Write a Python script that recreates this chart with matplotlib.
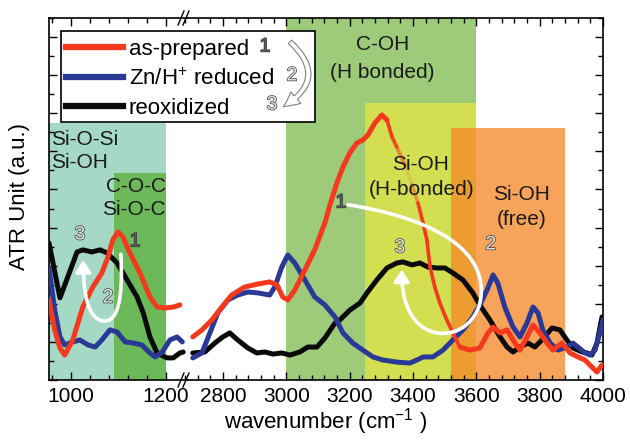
import numpy as np
import matplotlib
matplotlib.use("Agg")
import matplotlib.pyplot as plt
import matplotlib.patheffects as pe
from matplotlib.lines import Line2D
from matplotlib.patches import Rectangle, FancyArrowPatch
from matplotlib.path import Path
from matplotlib.collections import LineCollection
from matplotlib.ticker import MultipleLocator, NullFormatter

plt.rcParams["font.family"] = ["Liberation Sans", "DejaVu Sans"]
plt.rcParams["mathtext.fontset"] = "custom"
plt.rcParams["mathtext.rm"] = "Liberation Sans"

RED = "#f5391c"
BLUE = "#2b3996"
BLACK = "#0a0a0a"

# ---- low-wavenumber window (Si-O region) ----
lo_red_x = [954, 966, 977, 987, 1004, 1025, 1046, 1065, 1078, 1088, 1099, 1109,
            1124, 1145, 1166, 1181, 1198, 1215, 1229]
lo_red_y = [0.42, 0.263, 0.168, 0.131, 0.21, 0.383, 0.488, 0.562, 0.646, 0.735,
            0.777, 0.751, 0.667, 0.562, 0.436, 0.383, 0.378, 0.383, 0.394]
lo_blue_x = [954, 966, 977, 987, 1004, 1019, 1036, 1051, 1065, 1082, 1097, 1114,
             1131, 1149, 1166, 1177, 1192, 1208, 1223, 1234]
lo_blue_y = [0.588, 0.367, 0.226, 0.184, 0.2, 0.21, 0.184, 0.173, 0.21, 0.263,
             0.252, 0.2, 0.194, 0.184, 0.142, 0.121, 0.147, 0.21, 0.226, 0.2]
lo_black_x = [954, 977, 1013, 1025, 1044, 1061, 1076, 1097, 1118, 1139, 1152,
              1166, 1181, 1202, 1215, 1229, 1236]
lo_black_y = [0.719, 0.431, 0.672, 0.683, 0.672, 0.683, 0.667, 0.614, 0.525,
              0.436, 0.352, 0.226, 0.142, 0.116, 0.116, 0.142, 0.147]

# ---- high-wavenumber window (OH region) ----
hi_red_x = [2705, 2734, 2765, 2797, 2828, 2869, 2911, 2948, 2971, 2989, 3005,
            3027, 3059, 3090, 3122, 3138, 3160, 3179, 3201, 3223, 3242, 3258,
            3280, 3302, 3318, 3334, 3349, 3375, 3397, 3416, 3432, 3444, 3454,
            3469, 3485, 3507, 3526, 3548, 3580, 3611, 3637, 3653, 3675, 3697,
            3722, 3738, 3760, 3779, 3801, 3823, 3842, 3870, 3896, 3921, 3943,
            3965, 3981, 3997]
hi_red_y = [0.226, 0.263, 0.315, 0.383, 0.446, 0.488, 0.504, 0.515, 0.499, 0.436,
            0.42, 0.472, 0.578, 0.683, 0.824, 0.919, 1.034, 1.118, 1.192, 1.244,
            1.26, 1.286, 1.349, 1.391, 1.365, 1.276, 1.223, 1.129, 1.024, 0.929,
            0.824, 0.735, 0.593, 0.488, 0.404, 0.315, 0.247, 0.173, 0.157, 0.168,
            0.247, 0.278, 0.247, 0.263, 0.194, 0.157, 0.226, 0.289, 0.247, 0.194,
            0.157, 0.194, 0.142, 0.121, 0.105, 0.068, 0.042, 0.079]
hi_blue_x = [2705, 2734, 2759, 2784, 2816, 2847, 2879, 2911, 2948, 2964, 2986,
             3005, 3027, 3059, 3090, 3122, 3154, 3179, 3210, 3242, 3274, 3305,
             3349, 3390, 3413, 3432, 3463, 3495, 3526, 3558, 3589, 3611, 3634,
             3653, 3668, 3690, 3716, 3738, 3760, 3779, 3795, 3810, 3833, 3858,
             3886, 3905, 3921, 3943, 3959, 3975, 3990, 4000]
hi_blue_y = [0.116, 0.142, 0.247, 0.352, 0.42, 0.446, 0.462, 0.457, 0.446, 0.488,
             0.593, 0.656, 0.614, 0.525, 0.436, 0.394, 0.331, 0.247, 0.194, 0.157,
             0.121, 0.105, 0.094, 0.089, 0.105, 0.121, 0.121, 0.157, 0.21, 0.263,
             0.331, 0.394, 0.472, 0.551, 0.509, 0.383, 0.278, 0.226, 0.299, 0.383,
             0.352, 0.263, 0.194, 0.157, 0.173, 0.194, 0.173, 0.142, 0.131, 0.157,
             0.247, 0.315]
hi_black_x = [2705, 2743, 2775, 2800, 2822, 2847, 2879, 2907, 2933, 2958, 2986,
              3012, 3043, 3068, 3097, 3122, 3154, 3169, 3201, 3233, 3255, 3286,
              3318, 3349, 3368, 3397, 3422, 3447, 3476, 3501, 3526, 3558, 3589,
              3611, 3643, 3675, 3697, 3716, 3738, 3763, 3785, 3807, 3839, 3864,
              3886, 3905, 3934, 3949, 3965, 3981, 3997]
hi_black_y = [0.142, 0.147, 0.194, 0.226, 0.247, 0.21, 0.168, 0.142, 0.147, 0.136,
              0.142, 0.131, 0.147, 0.173, 0.173, 0.22, 0.299, 0.315, 0.367, 0.404,
              0.457, 0.525, 0.588, 0.614, 0.62, 0.604, 0.614, 0.593, 0.588, 0.588,
              0.562, 0.525, 0.457, 0.394, 0.315, 0.226, 0.173, 0.147, 0.173, 0.194,
              0.173, 0.21, 0.273, 0.263, 0.21, 0.168, 0.147, 0.142, 0.131, 0.194,
              0.331]

# assignment bands: (x0, x1, top, colour)
lo_bands = [(940, 1200, 1.349, "#a6d8c6"), (1090, 1200, 1.087, "#6cb95a")]
hi_bands = [(3000, 3600, 1.9, "#9dcb79"), (3250, 3600, 1.454, "#d3df50")]
free_band = (3520, 3880, 1.323, "#f58a2a")

YMAX = 1.9
W, H = 630, 440

fig = plt.figure(figsize=(6.3, 4.4), dpi=100)
ax1 = fig.add_axes([49 / W, 60 / H, 139 / W, 362 / H])
ax2 = fig.add_axes([188 / W, 60 / H, 415 / W, 362 / H])

ax1.set_xlim(954, 1246)
ax2.set_xlim(2690, 4000)

for x0, x1, top, c in lo_bands:
    ax1.axvspan(x0, x1, ymin=0, ymax=top / YMAX, color=c, lw=0, zorder=0)
for x0, x1, top, c in hi_bands:
    ax2.axvspan(x0, x1, ymin=0, ymax=top / YMAX, color=c, lw=0, zorder=0)
ax2.axvspan(free_band[0], free_band[1], ymin=0, ymax=free_band[2] / YMAX,
            color=free_band[3], alpha=0.78, lw=0, zorder=0.5)

LW = 3.6
kw = dict(lw=LW, solid_capstyle="round", solid_joinstyle="round")
ax1.plot(lo_black_x, lo_black_y, color=BLACK, zorder=3, **kw)
ax1.plot(lo_blue_x, lo_blue_y, color=BLUE, zorder=3, **kw)
ax1.plot(lo_red_x, lo_red_y, color=RED, zorder=4, **kw)

ax2.plot(hi_black_x, hi_black_y, color=BLACK, zorder=3, **kw)
ax2.plot(hi_blue_x, hi_blue_y, color=BLUE, zorder=3, **kw)

# red trace: thinner on the falling edge, fading behind the Si-OH label
rx = np.array(hi_red_x, float)
ry = np.array(hi_red_y, float)
i0 = hi_red_x.index(3318)
i1 = hi_red_x.index(3548)
ax2.plot(rx[:i0 + 1], ry[:i0 + 1], color=RED, zorder=4, **kw)
ax2.plot(rx[i1:], ry[i1:], color=RED, zorder=4, **kw)
pts = np.column_stack([rx[i0:i1 + 1], ry[i0:i1 + 1]])
segs = np.stack([pts[:-1], pts[1:]], axis=1)
ymid = 0.5 * (pts[:-1, 1] + pts[1:, 1])
alpha = np.clip(np.abs(ymid - 1.07) / 0.2, 0.12, 1.0)
cols = [matplotlib.colors.to_rgba(RED, a) for a in alpha]
ax2.add_collection(LineCollection(segs, colors=cols, linewidths=2.6,
                                  capstyle="round", zorder=4))

for ax in (ax1, ax2):
    ax.set_ylim(0, YMAX)
    ax.yaxis.set_major_locator(MultipleLocator(0.2))
    ax.yaxis.set_minor_locator(MultipleLocator(0.1))
    ax.yaxis.set_major_formatter(NullFormatter())
    ax.xaxis.set_minor_locator(MultipleLocator(40))
    ax.tick_params(which="both", direction="in", top=True, labelsize=15,
                   width=1.0, pad=5)
    ax.tick_params(which="major", length=6)
    ax.tick_params(which="minor", length=3.5)
    for s in ax.spines.values():
        s.set_linewidth(1.2)

ax1.xaxis.set_major_locator(MultipleLocator(200))
ax2.xaxis.set_major_locator(MultipleLocator(200))
ax1.spines["right"].set_visible(False)
ax2.spines["left"].set_visible(False)
ax1.tick_params(axis="y", which="both", left=True, right=False)
ax2.tick_params(axis="y", which="both", left=False, right=True)

# band labels
tk = dict(fontsize=15, color="#1a1a1a", va="center", zorder=6)
ax1.text(958, 1.26, "Si-O-Si", ha="left", **tk)
ax1.text(958, 1.139, "Si-OH", ha="left", **tk)
ax1.text(1200, 1.013, "C-O-C", ha="right", **tk)
ax1.text(1200, 0.8925, "Si-O-C", ha="right", **tk)
ax2.text(3303, 1.759, "C-OH", ha="center", **tk)
ax2.text(3303, 1.612, "(H bonded)", ha="center", **tk)
ax2.text(3424, 1.129, "Si-OH", ha="center", **tk)
ax2.text(3426, 0.998, "(H-bonded)", ha="center", **tk)
ax2.text(3744, 0.971, "Si-OH", ha="center", **tk)
ax2.text(3744, 0.84, "(free)", ha="center", **tk)

# white loop arrows showing the 1 -> 2 -> 3 cycle
C4, MV = Path.CURVE4, Path.MOVETO
loop_lo = Path([(1105, 0.66), (1110, 0.42), (1098, 0.30), (1068, 0.31),
                (1040, 0.32), (1026, 0.42), (1026, 0.63)],
               [MV, C4, C4, C4, C4, C4, C4])
loop_hi = Path([(3195, 0.92), (3420, 0.86), (3630, 0.72), (3615, 0.44),
                (3600, 0.18), (3362, 0.14), (3365, 0.58)],
               [MV, C4, C4, C4, C4, C4, C4])
for ax, p in ((ax1, loop_lo), (ax2, loop_hi)):
    ax.add_patch(FancyArrowPatch(path=p, arrowstyle="-|>,head_length=7,head_width=4.5",
                                 color="white", lw=2.6, zorder=5))

num_fx = [pe.withStroke(linewidth=1.0, foreground="#3a3a3a")]


def step_num(ax_or_fig, x, y, s, dark=False, **extra):
    ax_or_fig.text(x, y, s, fontsize=14, ha="center", va="center",
                   color="#5a5a5a" if dark else "#e4e4e4",
                   path_effects=num_fx, zorder=7, **extra)


step_num(ax1, 1019, 0.761, "3")
step_num(ax1, 1135, 0.725, "1", dark=True)
step_num(ax1, 1078, 0.43, "2")
step_num(ax2, 3173, 0.929, "1", dark=True)
step_num(ax2, 3359, 0.693, "3")
step_num(ax2, 3646, 0.709, "2")

# legend box
fig.patches.append(Rectangle((61 / W, 1 - 122 / H), 254 / W, 91 / H,
                             transform=fig.transFigure, facecolor="white",
                             edgecolor="black", lw=1.2, zorder=3))
handles = [Line2D([], [], color=RED, lw=4.5),
           Line2D([], [], color=BLUE, lw=4.5),
           Line2D([], [], color=BLACK, lw=4.5)]
labels = ["as-prepared", "Zn/H$^{+}$ reduced", "reoxidized"]
leg = fig.legend(handles, labels, loc="upper left",
                 bbox_to_anchor=(59 / W, 1 - 32 / H), frameon=False,
                 fontsize=16, handlelength=2.6, handletextpad=0.25,
                 labelspacing=0.38, borderpad=0.3, borderaxespad=0)
leg.set_zorder(4)
step_num(fig, 265 / W, 1 - 47 / H, "1", dark=True, transform=fig.transFigure)
step_num(fig, 292 / W, 1 - 76 / H, "2", transform=fig.transFigure)
step_num(fig, 272 / W, 1 - 105 / H, "3", transform=fig.transFigure)
fig.patches.append(FancyArrowPatch((288 / W, 1 - 40 / H), (281 / W, 1 - 108 / H),
                                   transform=fig.transFigure,
                                   connectionstyle="arc3,rad=-0.7",
                                   arrowstyle="simple,tail_width=0.35,head_width=1.1,head_length=1.1",
                                   mutation_scale=10, facecolor="white",
                                   edgecolor="#808080", lw=0.8, zorder=5))

# axis break marks
for xb in (181, 186):
    for yb in (18, 380):
        fig.add_artist(Line2D([(xb - 3) / W, (xb + 3) / W],
                              [1 - (yb + 7) / H, 1 - (yb - 7) / H],
                              transform=fig.transFigure, color="black", lw=1.0))

fig.text(326 / W, 1 - 422 / H, "wavenumber (cm$^{-1}$ )", ha="center",
         va="center", fontsize=16)
fig.text(20 / W, 1 - 197 / H, "ATR Unit (a.u.)", ha="center", va="center",
         rotation=90, fontsize=16)

fig.savefig("out.png", dpi=100)
